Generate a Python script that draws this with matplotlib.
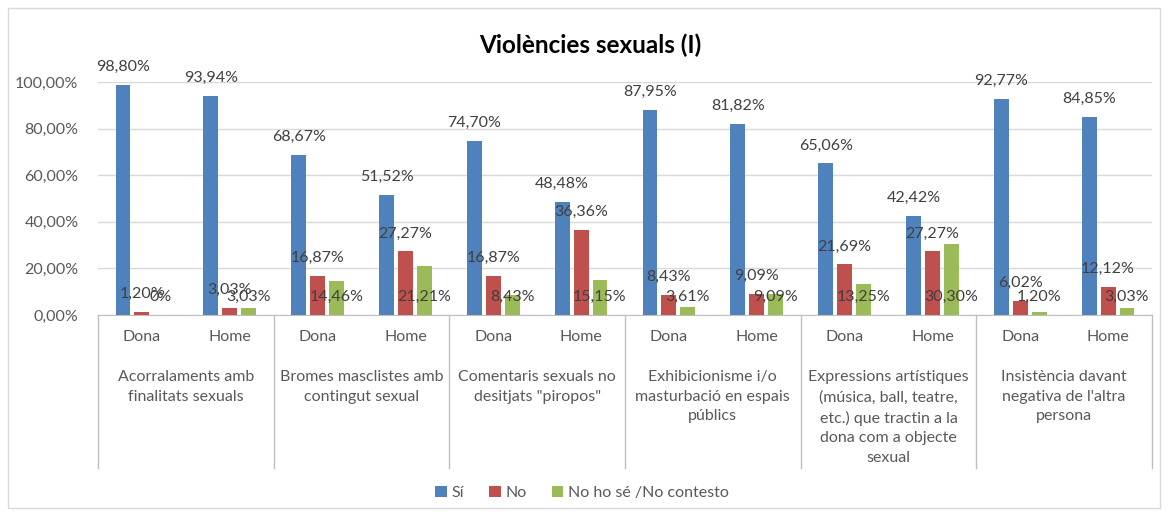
import matplotlib.pyplot as plt
from matplotlib.patches import Rectangle
from matplotlib.transforms import blended_transform_factory

COL_SI = "#4F81BD"
COL_NO = "#C0504D"
COL_NS = "#9BBB59"
TXT = "#595959"

plt.rcParams["font.family"] = ["Lato", "DejaVu Sans"]

categories = [
    "Acorralaments amb\nfinalitats sexuals",
    "Bromes masclistes amb\ncontingut sexual",
    "Comentaris sexuals no\ndesitjats \"piropos\"",
    "Exhibicionisme i/o\nmasturbació en espais\npúblics",
    "Expressions artístiques\n(música, ball, teatre,\netc.) que tractin a la\ndona com a objecte\nsexual",
    "Insistència davant\nnegativa de l'altra\npersona",
]
genders = ["Dona", "Home"]

si = [98.80, 93.94, 68.67, 51.52, 74.70, 48.48, 87.95, 81.82, 65.06, 42.42, 92.77, 84.85]
no = [1.20, 3.03, 16.87, 27.27, 16.87, 36.36, 8.43, 9.09, 21.69, 27.27, 6.02, 12.12]
ns = [0.00, 3.03, 14.46, 21.21, 8.43, 15.15, 3.61, 9.09, 13.25, 30.30, 1.20, 3.03]

series = [("Sí", si, COL_SI), ("No", no, COL_NO), ("No ho sé /No contesto", ns, COL_NS)]


def fmt(v):
    if v == 0:
        return "0%"
    return f"{v:.2f}".replace(".", ",") + "%"


fig = plt.figure(figsize=(11.69, 5.16), dpi=100)
ax = fig.add_axes([98 / 1169, 1 - 315 / 516, (1152 - 98) / 1169, (315 - 82) / 516])

n = len(si)
xs = list(range(n))
width = 0.17
step = 0.215
label_off = 18 * 72 / 100  # pixels -> points

for k, (name, vals, col) in enumerate(series):
    pos = [x + (k - 1) * step for x in xs]
    ax.bar(pos, vals, width=width, color=col, label=name, zorder=3)
    for p, v in zip(pos, vals):
        # Excel put the third series' labels just above the baseline
        base = 0 if k == 2 else v
        ax.annotate(fmt(v), (p, base), xytext=(0, label_off), textcoords="offset points",
                    ha="center", va="center", fontsize=11.5, color="#404040",
                    clip_on=False, zorder=4)

ax.set_xlim(-0.5, n - 0.5)
ax.set_ylim(0, 100)
ax.set_yticks([0, 20, 40, 60, 80, 100])
ax.set_yticklabels([f"{t},00%" for t in [0, 20, 40, 60, 80, 100]], fontsize=11.5, color=TXT)
ax.yaxis.grid(True, color="#d9d9d9", lw=1.0, zorder=0)
ax.tick_params(axis="y", length=0, pad=14)

ax.set_xticks(xs)
ax.set_xticklabels(genders * len(categories), fontsize=11.5, color=TXT)
ax.tick_params(axis="x", length=0, pad=11)

for s in ["top", "right", "left"]:
    ax.spines[s].set_visible(False)
ax.spines["bottom"].set_color("#bfbfbf")

# group separators and category labels below the axis
tr = blended_transform_factory(ax.transData, ax.transAxes)
sep_bottom = (315 - 468) / (315 - 82)
for g in range(len(categories) + 1):
    xg = g * 2 - 0.5
    ax.plot([xg, xg], [0, sep_bottom], transform=tr, color="#bfbfbf", lw=1.0, clip_on=False)
for g, cat in enumerate(categories):
    ax.text(g * 2 + 0.5, (315 - 370) / (315 - 82), cat, transform=tr, ha="center", va="top",
            fontsize=11.5, color=TXT, linespacing=1.52)

fig.text(0.505, 1 - 45 / 516, "Violències sexuals (I)", ha="center", va="center",
         fontsize=17.5, fontweight="bold", color="#000000")

fig.legend(loc="center", bbox_to_anchor=(0.498, 1 - 493 / 516), ncol=3, frameon=False,
           fontsize=11.5, handlelength=0.7, handleheight=0.7, handletextpad=0.3,
           columnspacing=1.6, labelcolor=TXT)

fig.patches.append(Rectangle((8 / 1169, 8 / 516), 1152 / 1169, 500 / 516, transform=fig.transFigure,
                             fill=False, edgecolor="#d9d9d9", lw=1.0))

fig.savefig("out.png", dpi=100)
